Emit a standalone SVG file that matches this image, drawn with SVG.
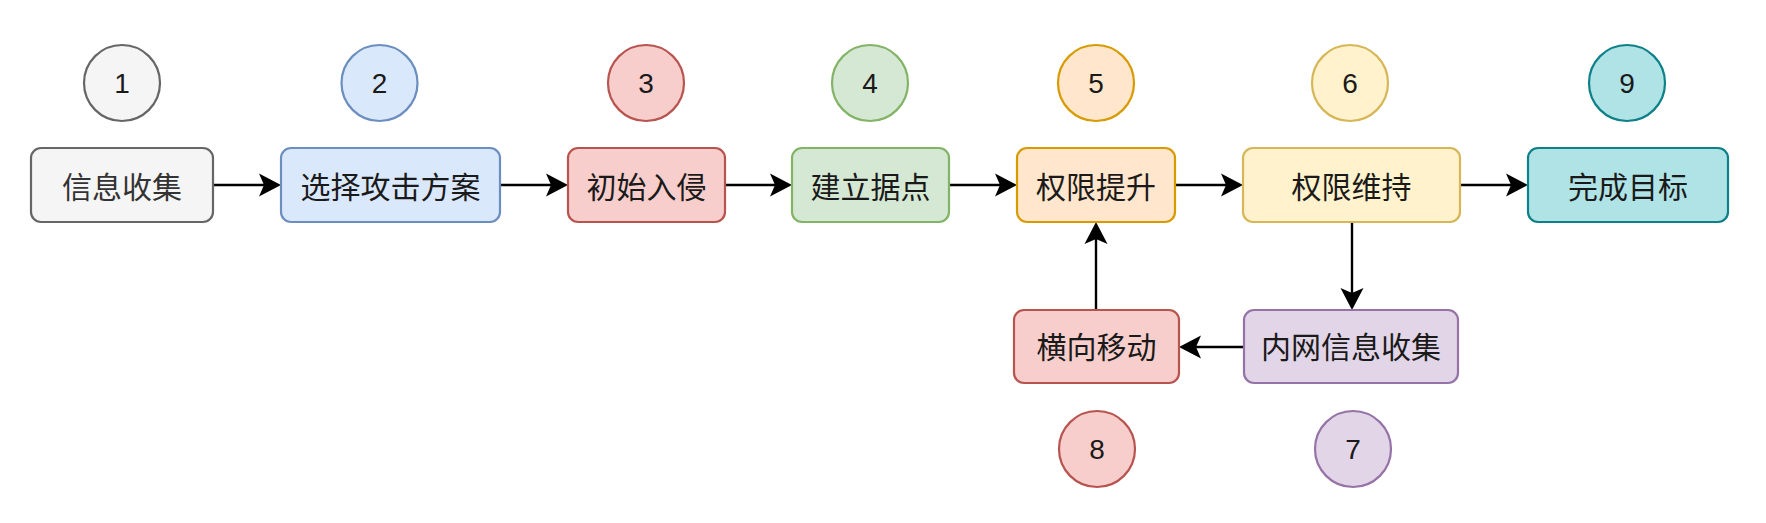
<svg xmlns="http://www.w3.org/2000/svg" width="1766" height="523" viewBox="0 0 1766 523">
<defs>
<style>
.box{stroke-width:2.2}
.circ{stroke-width:2.2}
.lbl{font-family:"Noto Sans CJK SC","Noto Sans",sans-serif;font-size:30px;fill:#1a1a1a;text-anchor:middle}
.num{font-family:"Liberation Sans",Arial,sans-serif;font-size:28px;fill:#1a1a1a;text-anchor:middle}
.edge{fill:none;stroke:#000;stroke-width:2.4}
.gray{fill:#f5f5f5;stroke:#666666}
.blue{fill:#dae8fc;stroke:#6c8ebf}
.red{fill:#f8cecc;stroke:#b85450}
.green{fill:#d5e8d4;stroke:#82b366}
.orange{fill:#ffe6cc;stroke:#d79b00}
.yellow{fill:#fff2cc;stroke:#d6b656}
.teal{fill:#b0e3e6;stroke:#0e8088}
.purple{fill:#e1d5e7;stroke:#9673a6}
</style>
<marker id="arr" markerUnits="userSpaceOnUse" viewBox="-13 -12 24 24" refX="0" refY="0" markerWidth="24" markerHeight="24" orient="auto">
<path d="M10,0 L-12,-11.5 L-7,0 L-12,11.5 Z" fill="#000"/>
</marker>
</defs>
<rect width="1766" height="523" fill="#ffffff"/>

<g id="connectors">
<path class="edge" d="M213,185 L271,185" marker-end="url(#arr)"/>
<path class="edge" d="M500,185 L558,185" marker-end="url(#arr)"/>
<path class="edge" d="M725,185 L782,185" marker-end="url(#arr)"/>
<path class="edge" d="M949,185 L1007,185" marker-end="url(#arr)"/>
<path class="edge" d="M1175,185 L1233,185" marker-end="url(#arr)"/>
<path class="edge" d="M1460,185 L1518,185" marker-end="url(#arr)"/>
<path class="edge" d="M1352,222 L1352,300" marker-end="url(#arr)"/>
<path class="edge" d="M1244,347 L1189,347" marker-end="url(#arr)"/>
<path class="edge" d="M1096,310 L1096,232" marker-end="url(#arr)"/>
</g>

<g id="n1">
<rect class="box gray" x="31" y="148" width="182" height="74" rx="10"/>
<text class="lbl" x="122" y="198" style="fill:#333333">信息收集</text>
</g>
<g id="n2">
<rect class="box blue" x="281" y="148" width="219" height="74" rx="10"/>
<text class="lbl" x="390.5" y="198">选择攻击方案</text>
</g>
<g id="n3">
<rect class="box red" x="568" y="148" width="157" height="74" rx="10"/>
<text class="lbl" x="646.5" y="198">初始入侵</text>
</g>
<g id="n4">
<rect class="box green" x="792" y="148" width="157" height="74" rx="10"/>
<text class="lbl" x="870.5" y="198">建立据点</text>
</g>
<g id="n5">
<rect class="box orange" x="1017" y="148" width="158" height="74" rx="10"/>
<text class="lbl" x="1096" y="198">权限提升</text>
</g>
<g id="n6">
<rect class="box yellow" x="1243" y="148" width="217" height="74" rx="10"/>
<text class="lbl" x="1351.5" y="198">权限维持</text>
</g>
<g id="n9">
<rect class="box teal" x="1528" y="148" width="200" height="74" rx="10"/>
<text class="lbl" x="1628" y="198">完成目标</text>
</g>
<g id="n7">
<rect class="box purple" x="1244" y="310" width="214" height="73" rx="10"/>
<text class="lbl" x="1351" y="358">内网信息收集</text>
</g>
<g id="n8">
<rect class="box red" x="1014" y="310" width="165" height="73" rx="10"/>
<text class="lbl" x="1096.5" y="358">横向移动</text>
</g>

<g id="c1"><circle class="circ gray" cx="122" cy="83" r="38"/><text class="num" x="122" y="93">1</text></g>
<g id="c2"><circle class="circ blue" cx="379.5" cy="83" r="38"/><text class="num" x="379.5" y="93">2</text></g>
<g id="c3"><circle class="circ red" cx="646" cy="83" r="38"/><text class="num" x="646" y="93">3</text></g>
<g id="c4"><circle class="circ green" cx="870" cy="83" r="38"/><text class="num" x="870" y="93">4</text></g>
<g id="c5"><circle class="circ orange" cx="1096" cy="83" r="38"/><text class="num" x="1096" y="93">5</text></g>
<g id="c6"><circle class="circ yellow" cx="1350" cy="83" r="38"/><text class="num" x="1350" y="93">6</text></g>
<g id="c9"><circle class="circ teal" cx="1627" cy="83" r="38"/><text class="num" x="1627" y="93">9</text></g>
<g id="c8"><circle class="circ red" cx="1097" cy="449" r="38"/><text class="num" x="1097" y="459">8</text></g>
<g id="c7"><circle class="circ purple" cx="1353" cy="449" r="38"/><text class="num" x="1353" y="459">7</text></g>
</svg>
